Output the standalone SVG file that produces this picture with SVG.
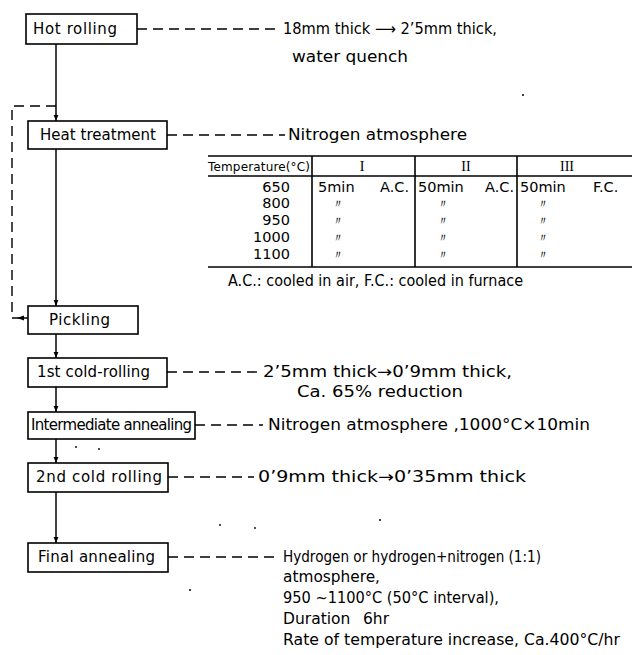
<svg xmlns="http://www.w3.org/2000/svg" width="633" height="655" viewBox="0 0 633 655">
<defs>
<style>
.bx{fill:#fff;stroke:#000;stroke-width:1.6}
.lb{font-family:"DejaVu Sans","Liberation Sans",sans-serif;font-size:15px;fill:#000}
.an{font-family:"DejaVu Sans","Liberation Sans",sans-serif;font-size:15.5px;fill:#000}
.tb{font-family:"DejaVu Sans","Liberation Sans",sans-serif;font-size:14.5px;fill:#000}
.rm{font-family:"Liberation Serif",serif;font-size:14px;fill:#000}
.sm{font-family:"DejaVu Sans","Liberation Sans",sans-serif;font-size:12px;fill:#000}
.dt{font-family:"DejaVu Sans",sans-serif;font-size:12px;fill:#000}
.ln{stroke:#000;stroke-width:1.5;fill:none}
.ds{stroke:#000;stroke-width:1.4;fill:none;stroke-dasharray:10 6}
.tl{stroke:#000;stroke-width:1.6;fill:none}
</style>
<marker id="ah" viewBox="0 0 10 10" refX="10" refY="5" markerWidth="6" markerHeight="6" markerUnits="userSpaceOnUse" orient="auto">
<path d="M0,1 L10,5 L0,9 Z" fill="#000"/>
</marker>
</defs>
<rect width="633" height="655" fill="#fff"/>

<g id="connectors">
<line class="ln" x1="56" y1="44" x2="56" y2="121" marker-end="url(#ah)"/>
<line class="ln" x1="56" y1="149" x2="56" y2="306" marker-end="url(#ah)"/>
<line class="ln" x1="56" y1="334" x2="56" y2="358" marker-end="url(#ah)"/>
<line class="ln" x1="56" y1="387" x2="56" y2="412" marker-end="url(#ah)"/>
<line class="ln" x1="56" y1="439" x2="56" y2="463" marker-end="url(#ah)"/>
<line class="ln" x1="56" y1="492" x2="56" y2="543" marker-end="url(#ah)"/>
<path class="ds" d="M56,106 H12 V318"/>
<line class="ln" x1="12" y1="318" x2="28" y2="318"/>
<path d="M17,318 L24,315.5 L24,320.5 Z" fill="#000"/>
<line class="ds" x1="137" y1="29" x2="278" y2="29"/>
<line class="ds" x1="167" y1="135" x2="285" y2="135"/>
<line class="ds" x1="167" y1="372" x2="258" y2="372"/>
<line class="ds" x1="195" y1="425" x2="263" y2="425"/>
<line class="ds" x1="168" y1="477" x2="254" y2="477"/>
<line class="ds" x1="168" y1="557" x2="279" y2="557"/>
</g>

<g id="hot-rolling">
<rect class="bx" x="26" y="14" width="111" height="30"/>
<text class="lb" x="33" y="34" textLength="84">Hot rolling</text>
</g>
<g id="heat-treatment">
<rect class="bx" x="28" y="121" width="139" height="28"/>
<text class="lb" x="40" y="140" textLength="116">Heat treatment</text>
</g>
<g id="pickling">
<rect class="bx" x="28" y="306" width="110" height="28"/>
<text class="lb" x="49" y="325" textLength="61">Pickling</text>
</g>
<g id="cold-rolling-1">
<rect class="bx" x="28" y="358" width="139" height="29"/>
<text class="lb" x="37" y="377" textLength="113">1st cold-rolling</text>
</g>
<g id="intermediate-annealing">
<rect class="bx" x="28" y="412" width="167" height="27"/>
<text class="lb" x="31" y="430" textLength="161">Intermediate annealing</text>
</g>
<g id="cold-rolling-2">
<rect class="bx" x="28" y="463" width="140" height="29"/>
<text class="lb" x="36" y="482" textLength="126">2nd cold rolling</text>
</g>
<g id="final-annealing">
<rect class="bx" x="28" y="543" width="140" height="29"/>
<text class="lb" x="38" y="562" textLength="117">Final annealing</text>
</g>

<g id="notes">
<text class="an" x="283" y="34" textLength="214" lengthAdjust="spacingAndGlyphs">18mm thick ⟶ 2’5mm thick,</text>
<text class="an" x="292" y="62" textLength="116" lengthAdjust="spacingAndGlyphs">water quench</text>
<text class="an" x="288" y="140" textLength="179" lengthAdjust="spacingAndGlyphs">Nitrogen atmosphere</text>
<text class="an" x="263" y="377" textLength="249" lengthAdjust="spacingAndGlyphs">2’5mm thick→0’9mm thick,</text>
<text class="an" x="297" y="397" textLength="166" lengthAdjust="spacingAndGlyphs">Ca. 65% reduction</text>
<text class="an" x="268" y="430" textLength="322" lengthAdjust="spacingAndGlyphs">Nitrogen atmosphere ,1000°C×10min</text>
<text class="an" x="258" y="482" textLength="268" lengthAdjust="spacingAndGlyphs">0’9mm thick→0’35mm thick</text>
<text class="an" x="283" y="562" textLength="258" lengthAdjust="spacingAndGlyphs">Hydrogen or hydrogen+nitrogen (1:1)</text>
<text class="an" x="283" y="582" textLength="97" lengthAdjust="spacingAndGlyphs">atmosphere,</text>
<text class="an" x="283" y="603" textLength="216" lengthAdjust="spacingAndGlyphs">950 ~1100°C (50°C interval),</text>
<text class="an" x="283" y="624">Duration<tspan x="363">6hr</tspan></text>
<text class="an" x="283" y="645" textLength="337" lengthAdjust="spacingAndGlyphs">Rate of temperature increase, Ca.400°C/hr</text>
</g>

<g id="table">
<line class="tl" x1="208" y1="156" x2="632" y2="156"/>
<line class="tl" x1="208" y1="176" x2="632" y2="176"/>
<line class="tl" x1="208" y1="267" x2="632" y2="267"/>
<line class="tl" x1="312" y1="156" x2="312" y2="267"/>
<line class="tl" x1="415" y1="156" x2="415" y2="267"/>
<line class="tl" x1="517" y1="156" x2="517" y2="267"/>
<text class="sm" x="208" y="171" textLength="102">Temperature(°C)</text>
<text class="rm" x="362" y="171" text-anchor="middle">I</text>
<text class="rm" x="466" y="171" text-anchor="middle">II</text>
<text class="rm" x="567" y="171" text-anchor="middle">III</text>
<g text-anchor="end">
<text class="tb" x="290" y="192">650</text>
<text class="tb" x="290" y="208">800</text>
<text class="tb" x="290" y="225">950</text>
<text class="tb" x="290" y="242">1000</text>
<text class="tb" x="290" y="259">1100</text>
</g>
<text class="tb" x="318" y="192">5min</text>
<text class="tb" x="380" y="192">A.C.</text>
<text class="tb" x="418" y="192">50min</text>
<text class="tb" x="485" y="192">A.C.</text>
<text class="tb" x="520" y="192">50min</text>
<text class="tb" x="593" y="192">F.C.</text>
<g class="dt" text-anchor="middle">
<text x="338" y="208">〃</text><text x="443" y="208">〃</text><text x="543" y="208">〃</text>
<text x="338" y="225">〃</text><text x="443" y="225">〃</text><text x="543" y="225">〃</text>
<text x="338" y="242">〃</text><text x="443" y="242">〃</text><text x="543" y="242">〃</text>
<text x="338" y="259">〃</text><text x="443" y="259">〃</text><text x="543" y="259">〃</text>
</g>
<text class="an" x="228" y="286" textLength="295" lengthAdjust="spacingAndGlyphs">A.C.: cooled in air, F.C.: cooled in furnace</text>
</g>

<g id="specks" fill="#000">
<circle cx="523" cy="95" r="1"/>
<circle cx="76" cy="447" r="0.9"/>
<circle cx="99" cy="449" r="0.9"/>
<circle cx="220" cy="525" r="0.9"/>
<circle cx="255" cy="528" r="0.9"/>
<circle cx="380" cy="520" r="1"/>
<circle cx="190" cy="590" r="1"/>
</g>
</svg>
